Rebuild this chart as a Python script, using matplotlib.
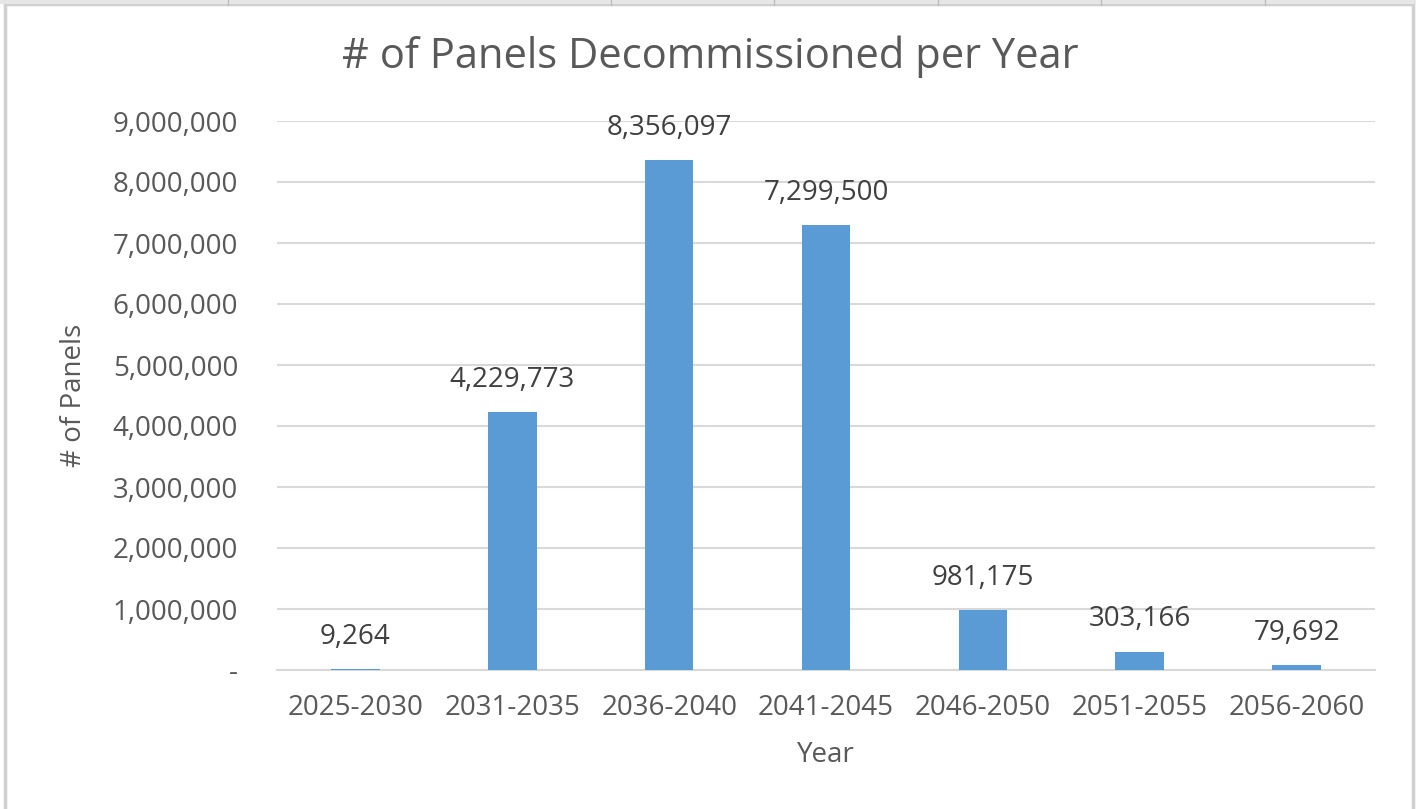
import matplotlib
matplotlib.use("Agg")
import matplotlib.pyplot as plt
from matplotlib.ticker import FuncFormatter
from matplotlib.patches import Rectangle

categories = ["2025-2030", "2031-2035", "2036-2040", "2041-2045",
              "2046-2050", "2051-2055", "2056-2060"]
panels = [9264, 4229773, 8356097, 7299500, 981175, 303166, 79692]
y_ticks = [0, 1000000, 2000000, 3000000, 4000000, 5000000,
           6000000, 7000000, 8000000, 9000000]

plt.rcParams['font.family'] = ['Open Sans', 'DejaVu Sans']
text_color = "#595959"
label_color = "#404040"
bar_color = "#5B9BD5"
grid_color = "#D9D9D9"
fs = 20

W, H = 1416, 809
fig = plt.figure(figsize=(W / 100, H / 100), dpi=100)

# chart frame and faint sheet column marks above it
fig.add_artist(Rectangle((5 / W, -0.01), 1408 / W, (H - 4) / H + 0.01,
                         transform=fig.transFigure, fill=False,
                         edgecolor="#D0D0D0", linewidth=2.5))
fig.add_artist(Rectangle((0, (H - 4) / H), 1, 4 / H, transform=fig.transFigure,
                         facecolor="#E6E6E6", edgecolor="none"))
for xm in [228, 611, 774, 938, 1101, 1265]:
    fig.add_artist(plt.Line2D([xm / W, xm / W], [(H - 5) / H, 1],
                              transform=fig.transFigure, color="#BDBDBD", linewidth=1))

left, right, top, bottom = 277, 1375, 121, 670
ax = fig.add_axes([left / W, 1 - bottom / H, (right - left) / W, (bottom - top) / H])

x = range(len(categories))
ax.bar(x, panels, width=0.31, color=bar_color, zorder=3)
ax.set_xlim(-0.5, len(categories) - 0.5)
ax.set_ylim(0, 9000000)
ax.set_yticks(y_ticks)
ax.yaxis.set_major_formatter(FuncFormatter(lambda v, p: "-" if v == 0 else f"{int(v):,}"))
ax.set_xticks(list(x))
ax.set_xticklabels(categories)

ax.grid(axis="y", color=grid_color, linewidth=1.5, zorder=0)
for s in ["top", "right", "left"]:
    ax.spines[s].set_visible(False)
ax.spines["bottom"].set_color(grid_color)
ax.spines["bottom"].set_linewidth(1.5)
ax.tick_params(axis="both", length=0, labelsize=fs, colors=text_color)
ax.tick_params(axis="y", pad=28)
ax.tick_params(axis="x", pad=17)

for xi, v in zip(x, panels):
    ax.annotate(f"{v:,}", (xi, v), xytext=(0, 13), textcoords="offset points",
                ha="center", va="bottom", fontsize=fs, color=label_color)

ax.set_xlabel("Year", fontsize=fs, color=text_color, labelpad=14)
ax.set_ylabel("# of Panels", fontsize=fs, color=text_color, labelpad=18)

fig.text(710 / W, 1 - 57 / H, "# of Panels Decommissioned per Year",
         ha="center", va="center", fontsize=30, color=text_color)

fig.savefig("out.png", dpi=100, facecolor="white")
